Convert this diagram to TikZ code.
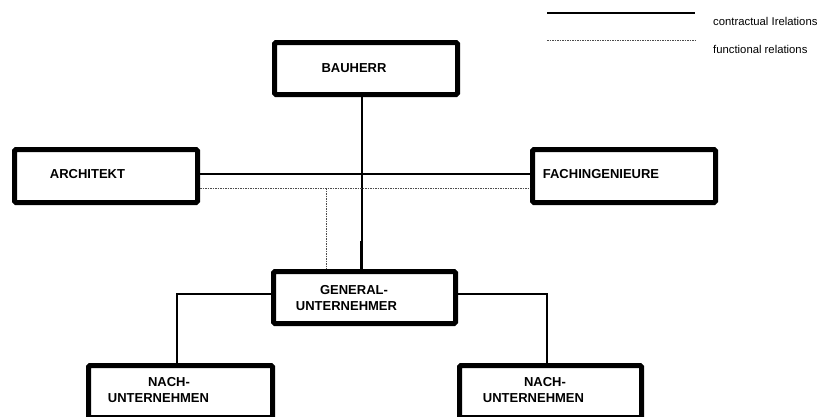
\documentclass[tikz,border=0pt]{standalone}
\usepackage{fontspec}
\setmainfont{Liberation Sans}
\begin{document}
\begin{tikzpicture}[x=1pt,y=-1pt,
  party/.style={draw=black, line width=5pt, rounded corners=1.5pt, fill=white,
    minimum width=183pt, minimum height=52pt, inner sep=0pt},
  lbl/.style={font=\fontsize{13}{15}\selectfont\bfseries, inner sep=0pt},
  legendtxt/.style={font=\fontsize{11.3}{13}\selectfont, inner sep=0pt, anchor=west},
  contract/.style={line width=2pt},
  functional/.style={draw=black!70, line width=0.9pt, dash pattern=on 1.6pt off 0.9pt}]
\useasboundingbox (0,0) rectangle (818,416);

% legend
\coordinate (ls1) at (547,13);  \coordinate (ls2) at (695,13);
\coordinate (ld1) at (547,40);  \coordinate (ld2) at (695,40);
\draw[line width=1.4pt] (ls1) -- (ls2);
\draw[functional] (ld1) -- (ld2);
\node[legendtxt] (lgc) at (713,21) {contractual Irelations};
\node[legendtxt] (lgf) at (713,49) {functional relations};

% parties
\node[party] (bau)  at (366,68.5)  {};
\node[party, minimum height=53pt] (arch) at (106,176) {};
\node[party, minimum height=53pt] (fach) at (624,176) {};
\node[party, minimum width=182pt] (gu) at (364.5,297.5) {};
\node[party, minimum width=184pt] (nl) at (180.5,391.5) {};
\node[party, minimum width=182pt] (nr) at (550.5,391.5) {};

% labels
\node[lbl] (tbau)  at (354,68)  {BAUHERR};
\node[lbl] (tarch) at (87.5,174) {ARCHITEKT};
\node[lbl] (tfach) at (601,174) {FACHINGENIEURE};
\node[lbl] (tgu1)  at (354,290) {GENERAL-};
\node[lbl] (tgu2)  at (346.5,306) {UNTERNEHMER};
\node[lbl] (tnl1)  at (169,382) {NACH-};
\node[lbl] (tnl2)  at (158.5,398) {UNTERNEHMEN};
\node[lbl] (tnr1)  at (545,382) {NACH-};
\node[lbl] (tnr2)  at (533.5,398) {UNTERNEHMEN};

% contractual relations
\draw[contract] (arch.east |- 0,174) -- (fach.west |- 0,174);
\draw[contract] (bau.south -| 362,0) -- (gu.north -| 362,0);
\coordinate (gujoin) at (360.5,241);
\draw[contract] (gujoin) -- (gu.north -| gujoin);
\draw[contract] (gu.west |- 0,294) -| (nl.north -| 177,0);
\draw[contract] (gu.east |- 0,294) -| (nr.north -| 547,0);

% functional relations
\draw[functional] (arch.east |- 0,188) -- (fach.west |- 0,188);
\coordinate (fjoin) at (326,188);
\draw[functional] (fjoin) -- (gu.north -| fjoin);
\end{tikzpicture}
\end{document}
